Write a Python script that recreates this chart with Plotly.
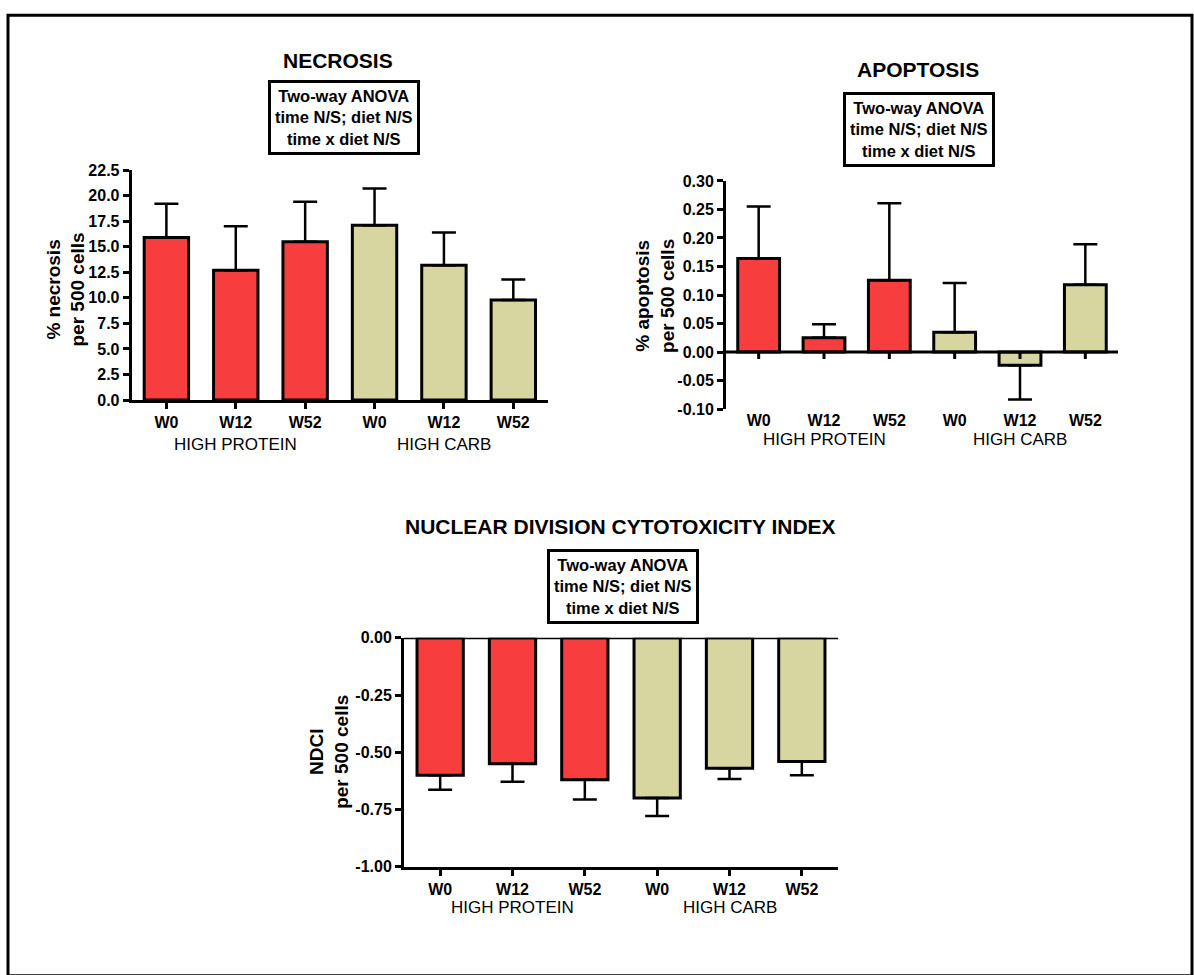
import plotly.graph_objects as go

# ---- data -------------------------------------------------------------
weeks = ["W0", "W12", "W52", "W0", "W12", "W52"]
diet_groups = ["HIGH PROTEIN", "HIGH CARB"]
diet_of_bar = [0, 0, 0, 1, 1, 1]

necrosis_mean = [15.9, 12.7, 15.5, 17.1, 13.2, 9.8]
necrosis_sem = [3.3, 4.3, 3.9, 3.6, 3.2, 2.0]

apoptosis_mean = [0.164, 0.025, 0.126, 0.035, -0.023, 0.118]
apoptosis_sem = [0.091, 0.024, 0.135, 0.086, 0.060, 0.071]

ndci_mean = [-0.60, -0.55, -0.62, -0.70, -0.57, -0.54]
ndci_sem = [0.064, 0.079, 0.086, 0.078, 0.047, 0.060]

necrosis_ticks = [0.0, 2.5, 5.0, 7.5, 10.0, 12.5, 15.0, 17.5, 20.0, 22.5]
apoptosis_ticks = [-0.10, -0.05, 0.00, 0.05, 0.10, 0.15, 0.20, 0.25, 0.30]
ndci_ticks = [-1.00, -0.75, -0.50, -0.25, 0.00]

anova_text = "Two-way ANOVA<br>time N/S; diet N/S<br>time x diet N/S"

# ---- styling ----------------------------------------------------------
W, H = 1194, 975
FONT = "Liberation Sans, Arial, sans-serif"
diet_colors = ["#F83D3F", "#D7D6A0"]
bar_colors = [diet_colors[g] for g in diet_of_bar]
x_pos = list(range(len(weeks)))


def px(x):
    return x / W


def py(y):
    return 1 - y / H


def fmt(v, nd):
    s = f"{abs(v):.{nd}f}"
    return "-" + s if v < 0 else s


def bar_trace(means, sems, xa, ya):
    plus = [s if m >= 0 else 0 for m, s in zip(means, sems)]
    minus = [s if m < 0 else 0 for m, s in zip(means, sems)]
    return go.Bar(
        x=x_pos, y=means, xaxis=xa, yaxis=ya, width=0.64,
        marker=dict(color=bar_colors, line=dict(color="black", width=3)),
        error_y=dict(type="data", symmetric=False, array=plus, arrayminus=minus,
                     color="black", thickness=2.5, width=12),
        showlegend=False, hoverinfo="skip",
    )


fig = go.Figure()
fig.add_trace(bar_trace(necrosis_mean, necrosis_sem, "x", "y"))
fig.add_trace(bar_trace(apoptosis_mean, apoptosis_sem, "x2", "y2"))
fig.add_trace(bar_trace(ndci_mean, ndci_sem, "x3", "y3"))

tickfont = dict(family=FONT, size=16, color="black", weight="bold")
catfont = dict(family=FONT, size=16, color="black", weight="bold")

axis_common = dict(linecolor="black", linewidth=3, showgrid=False, zeroline=False,
                   tickcolor="black", tickwidth=3, ticklen=6, fixedrange=True)

panels = {
    # name: (x extent px, y extent px (top, bottom))
    "nec": ((131.7, 548), (165, 399)),
    "apo": ((726, 1118), (176, 408.3)),
    "ndc": ((404, 838), (641, 874)),
}


def xdom(p):
    return [px(panels[p][0][0]), px(panels[p][0][1])]


def ydom(p):
    return [py(panels[p][1][1]), py(panels[p][1][0])]


fig.update_layout(
    width=W, height=H, autosize=False,
    margin=dict(l=0, r=0, t=0, b=0),
    paper_bgcolor="white", plot_bgcolor="rgba(0,0,0,0)",
    xaxis=dict(axis_common, domain=xdom("nec"), anchor="y", range=[-0.5, 5.5],
               showline=True, ticks="outside", tickvals=x_pos, ticktext=weeks,
               tickfont=catfont),
    yaxis=dict(axis_common, domain=ydom("nec"), anchor="x", range=[0, 22.5],
               showline=True, ticks="outside", tickvals=necrosis_ticks,
               ticktext=[fmt(v, 1) for v in necrosis_ticks], tickfont=tickfont),
    xaxis2=dict(axis_common, domain=xdom("apo"), anchor="y2", range=[-0.5, 5.5],
                showline=False, ticks="", tickvals=x_pos, ticktext=weeks,
                tickfont=catfont),
    yaxis2=dict(axis_common, domain=ydom("apo"), anchor="x2", range=[-0.1, 0.3],
                showline=True, ticks="outside", tickvals=apoptosis_ticks,
                ticktext=[fmt(v, 2) for v in apoptosis_ticks], tickfont=tickfont),
    xaxis3=dict(axis_common, domain=xdom("ndc"), anchor="y3", range=[-0.5, 5.5],
                showline=True, ticks="outside", tickvals=x_pos, ticktext=weeks,
                tickfont=catfont),
    yaxis3=dict(axis_common, domain=ydom("ndc"), anchor="x3", range=[-1, 0],
                showline=True, ticks="outside", tickvals=ndci_ticks,
                ticktext=[fmt(v, 2) for v in ndci_ticks], tickfont=tickfont),
)

shapes = []
# zero lines across the apoptosis and NDCI panels
for xa, ya in (("x2", "y2"), ("x3", "y3")):
    shapes.append(dict(type="line", xref=f"{xa} domain", yref=ya, x0=0, x1=1, y0=0, y1=0,
                       line=dict(color="black", width=3), layer="above"))
# category ticks hanging from the apoptosis zero line
for i in x_pos:
    shapes.append(dict(type="line", xref="x2", yref="y2", ysizemode="pixel", yanchor=0,
                       x0=i, x1=i, y0=0, y1=-7, line=dict(color="black", width=3)))
# outer frame (bottom edge runs off the page)
shapes.append(dict(type="rect", xref="paper", yref="paper",
                   x0=px(8), x1=px(1192), y0=py(985), y1=py(7.5),
                   line=dict(color="black", width=3)))
fig.update_layout(shapes=shapes)

ann = []


def text(x, y, s, size, bold=True, xref="paper", angle=0, **kw):
    ann.append(dict(x=x, y=y, xref=xref, yref="paper", text=s, showarrow=False,
                    textangle=angle, xanchor="center", yanchor="middle",
                    font=dict(family=FONT, size=size, color="black",
                              weight="bold" if bold else "normal"), **kw))


# titles
text(px(338), py(53), "NECROSIS", 21)
text(px(918), py(63), "APOPTOSIS", 21)
text(px(620), py(528), "NUCLEAR DIVISION CYTOTOXICITY INDEX", 21)

# ANOVA boxes
for cx, cy in ((343.5, 111.5), (919, 123.5), (622.5, 588.5)):
    text(px(cx), py(cy), anova_text, 16.5, bordercolor="black", borderwidth=3,
         borderpad=4, bgcolor="white")

# axis titles
text(px(65.5), py(287), "% necrosis<br>per 500 cells", 19, angle=-90)
text(px(655), py(293), "% apoptosis<br>per 500 cells", 19, angle=-90)
text(px(329), py(757), "NDCI<br>per 500 cells", 19, angle=-90)

# diet group labels under the middle week of each group
for xa, ylab in (("x", 444), ("x2", 439), ("x3", 915)):
    for g, name in enumerate(diet_groups):
        text(3 * g + 1, py(ylab), name, 17, bold=False, xref=xa)

fig.update_layout(annotations=ann)

fig.write_html("out.html")
